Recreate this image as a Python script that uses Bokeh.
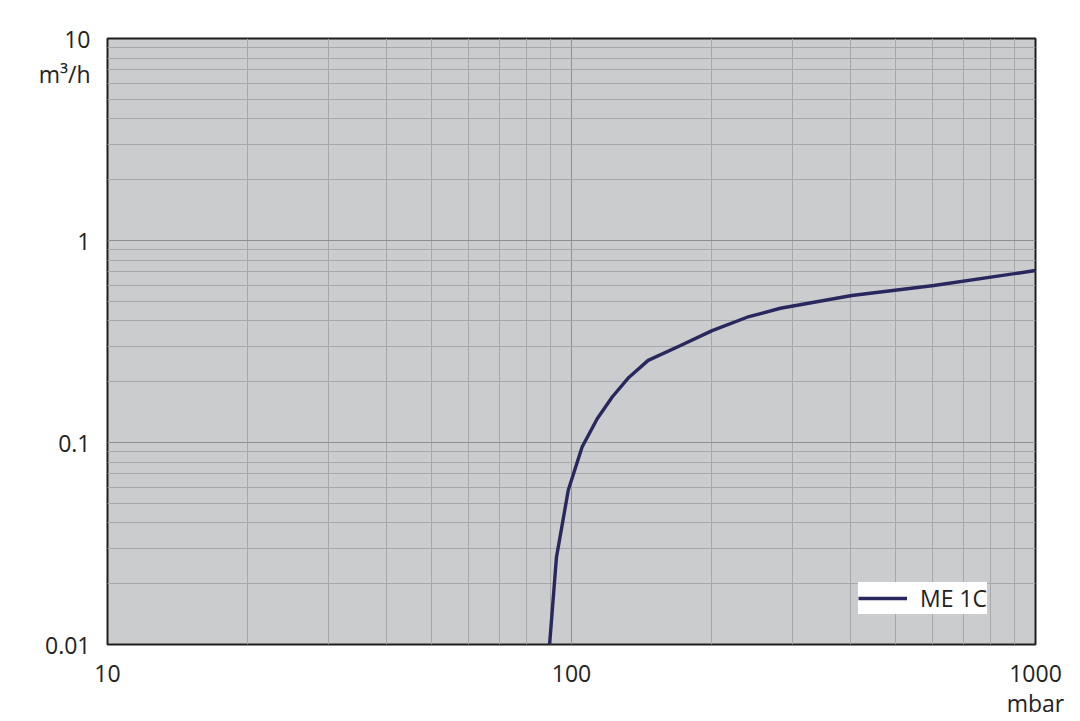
from bokeh.plotting import figure
from bokeh.models import FixedTicker, Legend, LegendItem, CustomJSTickFormatter
from bokeh.embed import file_html
from bokeh.resources import INLINE

# Data (pressure in mbar, pumping speed in m³/h)
pressure = [89.7, 92.8, 98.4, 105.4, 113.6, 122.4, 132.9, 146.3, 171.8, 201, 239, 282, 402, 604, 1000]
speed = [0.01, 0.027, 0.058, 0.095, 0.131, 0.168, 0.21, 0.255, 0.302, 0.358, 0.417, 0.462, 0.534, 0.599, 0.71]
series_name = "ME 1C"

x_ticks = [10, 100, 1000]
y_ticks = [0.01, 0.1, 1, 10]
x_unit = "mbar"
y_unit = "m³/h"
x_labels = {10: "10", 100: "100", 1000: "1000\n" + x_unit}
y_labels = ["0.01", "0.1", "1", "10"]

FONT = "Open Sans"
TXT = "#222222"

FRAME_H = 606                      # plot frame height in px (3 decades)
unit_pos = 10 ** (1 - 3 * 35 / FRAME_H)   # place the y unit 35 px below the top tick

def minors(major):
    out = []
    for m in major[:-1]:
        out += [m * k for k in range(2, 10)]
    return out

p = figure(width=1072, height=721, x_axis_type="log", y_axis_type="log",
           x_range=(10, 1000), y_range=(0.01, 10),
           output_backend="svg", toolbar_location=None,
           min_border_left=107, min_border_right=37, min_border_top=38, min_border_bottom=77)
p.background_fill_color = "#cbcccd"
p.border_fill_color = "white"
p.outline_line_color = "#1e1e1e"
p.outline_line_width = 2

p.xaxis.ticker = FixedTicker(ticks=x_ticks, minor_ticks=minors(x_ticks))
p.yaxis.ticker = FixedTicker(ticks=y_ticks + [unit_pos], minor_ticks=[])
p.xaxis.major_label_overrides = x_labels
p.yaxis.formatter = CustomJSTickFormatter(
    args=dict(yt=y_ticks, yl=y_labels, unit=y_unit, upos=unit_pos),
    code="""
    if (Math.abs(tick - upos) < 1e-6) return unit;
    for (let i = 0; i < yt.length; i++) {
        if (Math.abs(tick - yt[i]) < 1e-9 * yt[i] + 1e-12) return yl[i];
    }
    return "";
    """)
for ax in (p.xaxis, p.yaxis):
    ax.axis_line_color = None
    ax.major_tick_line_color = None
    ax.minor_tick_line_color = None
    ax.major_tick_out = 0
    ax.major_tick_in = 0
    ax.minor_tick_out = 0
    ax.major_label_text_font = FONT
    ax.major_label_text_font_size = "23px"
    ax.major_label_text_color = TXT
p.yaxis.major_label_standoff = 17
p.xaxis.major_label_standoff = 12
p.xaxis.major_label_text_line_height = 0.95

p.xgrid.ticker = FixedTicker(ticks=x_ticks, minor_ticks=minors(x_ticks))
p.ygrid.ticker = FixedTicker(ticks=y_ticks, minor_ticks=minors(y_ticks))
for g in (p.xgrid, p.ygrid):
    g.grid_line_color = "#8e8f91"
    g.grid_line_width = 1
    g.minor_grid_line_color = "#a6a7a9"
    g.minor_grid_line_width = 1

r = p.line(pressure, speed, line_color="#28285f", line_width=3.4)

legend = Legend(items=[LegendItem(label=series_name, renderers=[r])],
                location=(751, 30), padding=4, margin=0, spacing=0,
                glyph_width=49, glyph_height=24, label_height=24, label_standoff=13,
                label_text_font=FONT, label_text_font_size="23px", label_text_color=TXT,
                background_fill_color="white", background_fill_alpha=1.0,
                border_line_color=None)
p.add_layout(legend, "center")

open("out.html", "w").write(file_html(p, INLINE))
